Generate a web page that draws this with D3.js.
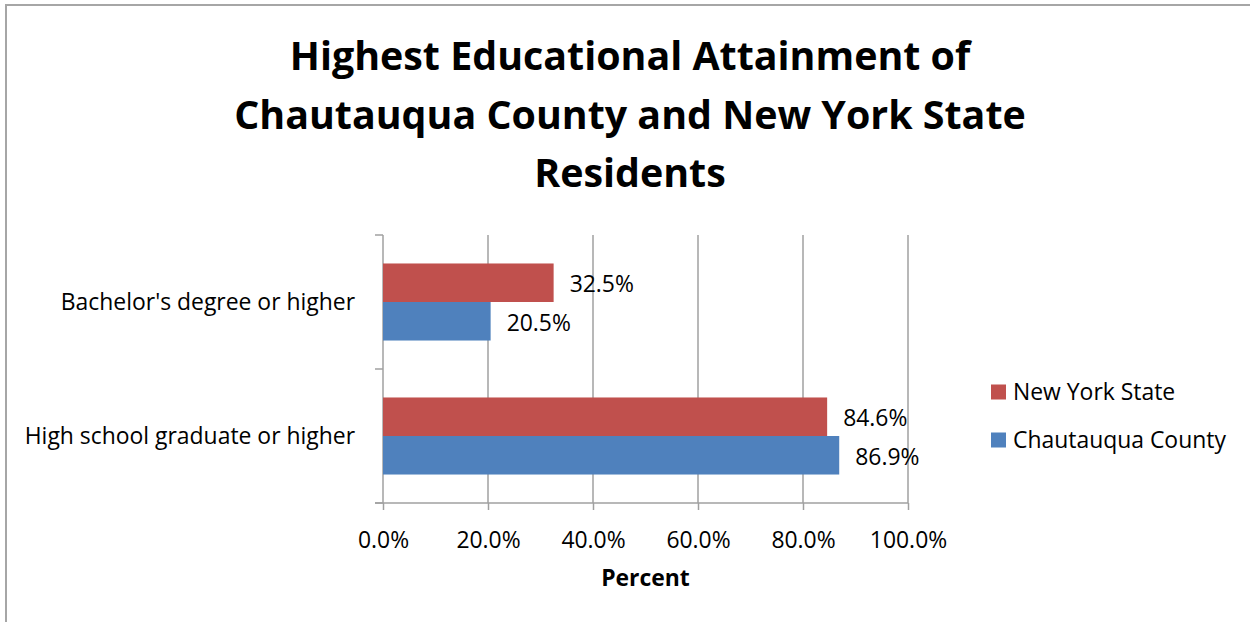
<!DOCTYPE html>
<html>
<head>
<meta charset="utf-8">
<script src="https://cdn.jsdelivr.net/npm/d3@7"></script>
<style>
  body { margin: 0; background: #fff; }
  text { font-family: "Open Sans", "Noto Sans", sans-serif; fill: #000; }
</style>
</head>
<body>
<div id="chart"></div>
<script>
const categories = ["Bachelor's degree or higher", "High school graduate or higher"];
const seriesNames = ["New York State", "Chautauqua County"];
const nyState = [32.5, 84.6];
const chautauqua = [20.5, 86.9];
const xTicks = [0, 20, 40, 60, 80, 100];
const titleLines = ["Highest Educational Attainment of", "Chautauqua County and New York State", "Residents"];

const width = 1250,
  height = 622,
  margin = ({ top: 235, right: 342, bottom: 119, left: 383 }),
  colors = ["#C0504D", "#4F81BD"],
  gridColor = "#a0a0a0";

const values = [nyState, chautauqua];
const data = categories.map((c, i) => ({
  category: c,
  bars: seriesNames.map((s, j) => ({ series: s, value: values[j][i] }))
}));

// scale text so that a sample string fills the width it has in the picture
function fitSize(sel, target) {
  const w = sel.node().getComputedTextLength();
  const fs = parseFloat(sel.attr("font-size"));
  return fs * target / w;
}

const x = d3.scaleLinear()
  .domain([0, 100])
  .range([margin.left, width - margin.right]);

const y = d3.scaleBand()
  .domain(categories)
  .range([margin.top, height - margin.bottom])
  .paddingInner(0.425)
  .paddingOuter(0.2125);

const ySub = d3.scaleBand()
  .domain(seriesNames)
  .range([0, y.bandwidth()]);

const svg = d3.select("#chart")
  .append("svg")
  .attr("width", width)
  .attr("height", height);

// outer frame
svg.append("rect")
  .attr("x", 6).attr("y", 5)
  .attr("width", width + 10).attr("height", height + 10)
  .attr("fill", "none")
  .attr("stroke", "#a6a6a6")
  .attr("stroke-width", 2);

// sample for the regular text size
const probe = svg.append("text").attr("font-size", 20).text("Chautauqua County");
const fs = fitSize(probe, 213);
probe.remove();

// title
const title = svg.append("g")
  .attr("font-weight", "bold")
  .attr("text-anchor", "middle");
const tProbe = title.append("text").attr("font-size", 40).text(titleLines[1]);
const titleSize = fitSize(tProbe, 792);
tProbe.remove();
title.selectAll("text")
  .data(titleLines)
  .join("text")
  .attr("x", 630)
  .attr("y", (d, i) => 70 + i * 58.5)
  .attr("font-size", titleSize)
  .text(d => d);

// gridlines
svg.append("g")
  .selectAll("line")
  .data(xTicks.slice(1))
  .join("line")
  .attr("x1", d => x(d)).attr("x2", d => x(d))
  .attr("y1", margin.top).attr("y2", height - margin.bottom)
  .attr("stroke", gridColor)
  .attr("stroke-width", 1.5);

// x axis
const xAxis = svg.append("g")
  .attr("transform", `translate(0,${height - margin.bottom})`)
  .call(d3.axisBottom(x)
    .tickValues(xTicks)
    .tickSize(7)
    .tickSizeOuter(0)
    .tickPadding(22)
    .tickFormat(d => d.toFixed(1) + "%"));
xAxis.select(".domain").remove();
xAxis.selectAll(".tick line").attr("stroke", gridColor).attr("stroke-width", 1.5);
xAxis.selectAll(".tick text")
  .attr("font-family", null)
  .attr("font-size", fs)
  .attr("fill", "#000");
xAxis.attr("font-family", null).attr("font-size", null);
xAxis.append("line")
  .attr("x1", margin.left - 8).attr("x2", width - margin.right)
  .attr("stroke", gridColor).attr("stroke-width", 1.5);

// y axis with ticks on the band edges
const yAxis = svg.append("g");
yAxis.append("line")
  .attr("x1", margin.left).attr("x2", margin.left)
  .attr("y1", margin.top).attr("y2", height - margin.bottom)
  .attr("stroke", gridColor).attr("stroke-width", 1.5);
yAxis.selectAll(".edge")
  .data(d3.range(categories.length + 1))
  .join("line")
  .attr("class", "edge")
  .attr("x1", margin.left - 8).attr("x2", margin.left)
  .attr("y1", i => margin.top + i * y.step())
  .attr("y2", i => margin.top + i * y.step())
  .attr("stroke", gridColor).attr("stroke-width", 1.5);
yAxis.selectAll("text")
  .data(categories)
  .join("text")
  .attr("x", margin.left - 28)
  .attr("y", d => y(d) + y.bandwidth() / 2)
  .attr("dy", "0.35em")
  .attr("text-anchor", "end")
  .attr("font-size", fs)
  .text(d => d);

// bars
const groups = svg.append("g")
  .selectAll("g")
  .data(data)
  .join("g")
  .attr("transform", d => `translate(0,${y(d.category)})`);

groups.selectAll("rect")
  .data(d => d.bars)
  .join("rect")
  .attr("x", x(0))
  .attr("y", d => ySub(d.series))
  .attr("width", d => x(d.value) - x(0))
  .attr("height", ySub.bandwidth())
  .attr("fill", (d, i) => colors[i]);

groups.selectAll("text")
  .data(d => d.bars)
  .join("text")
  .attr("x", d => x(d.value) + 16)
  .attr("y", d => ySub(d.series) + ySub.bandwidth() / 2 + 1.5)
  .attr("dy", "0.35em")
  .attr("font-size", fs)
  .text(d => d.value.toFixed(1) + "%");

// axis title
const xTitle = svg.append("text")
  .attr("x", (x(0) + x(100)) / 2)
  .attr("y", 578)
  .attr("dy", "0.35em")
  .attr("text-anchor", "middle")
  .attr("font-weight", "bold")
  .attr("font-size", fs)
  .text("Percent");

// legend
const legend = svg.append("g")
  .selectAll("g")
  .data(seriesNames)
  .join("g")
  .attr("transform", (d, i) => `translate(991,${392 + i * 48})`);

legend.append("rect")
  .attr("x", 0).attr("y", -7.5)
  .attr("width", 15).attr("height", 15)
  .attr("fill", (d, i) => colors[i]);

legend.append("text")
  .attr("x", 22)
  .attr("dy", "0.35em")
  .attr("font-size", fs)
  .text(d => d);
</script>
</body>
</html>
